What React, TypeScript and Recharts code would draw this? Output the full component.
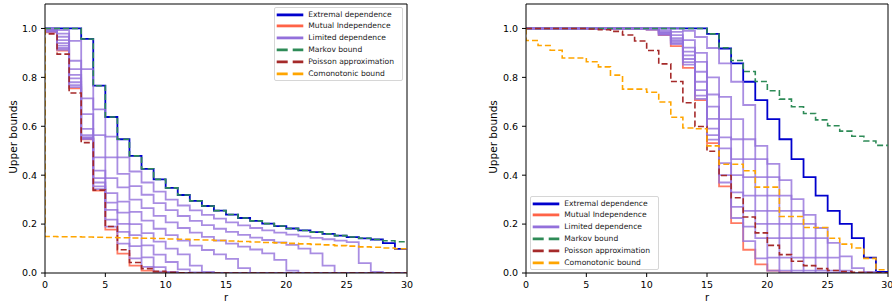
import { LineChart, Line, XAxis, YAxis, ReferenceLine } from 'recharts';

const rValues = [0, 1, 2, 3, 4, 5, 6, 7, 8, 9, 10, 11, 12, 13, 14, 15, 16, 17, 18, 19, 20, 21, 22, 23, 24, 25, 26, 27, 28, 29, 30];
const xTicks = [0, 5, 10, 15, 20, 25, 30];
const yTicks = [0, 0.2, 0.4, 0.6, 0.8, 1.0];

// left panel
const leftExtremal = [1, 1, 1, 1, 0.957, 0.766, 0.638, 0.547, 0.479, 0.426, 0.383, 0.348, 0.319, 0.295, 0.274, 0.255, 0.239, 0.225, 0.213, 0.202, 0.192, 0.182, 0.174, 0.167, 0.16, 0.153, 0.147, 0.142, 0.137, 0.122, 0.099];
const leftIndep = [1, 0.984, 0.909, 0.755, 0.547, 0.337, 0.177, 0.079, 0.03, 0.01, 0.003, 0.001, 0, 0, 0, 0, 0, 0, 0, 0, 0, 0, 0, 0, 0, 0, 0, 0, 0, 0, 0];
const leftLimited = [
  [1, 1, 0.993, 0.949, 0.834, 0.669, 0.558, 0.473, 0.415, 0.37, 0.333, 0.3, 0.276, 0.256, 0.238, 0.222, 0.207, 0.195, 0.184, 0.174, 0.165, 0.157, 0.15, 0.144, 0.138, 0.132, 0.126, 0.04, 0.005, 0, 0],
  [1, 0.999, 0.979, 0.868, 0.714, 0.564, 0.473, 0.405, 0.355, 0.32, 0.286, 0.257, 0.233, 0.213, 0.196, 0.181, 0.168, 0.156, 0.145, 0.135, 0.125, 0.115, 0.1, 0.08, 0.03, 0, 0, 0, 0, 0, 0],
  [1, 0.998, 0.966, 0.834, 0.65, 0.473, 0.388, 0.35, 0.3, 0.265, 0.234, 0.207, 0.184, 0.165, 0.148, 0.133, 0.12, 0.108, 0.096, 0.08, 0.054, 0.01, 0, 0, 0, 0, 0, 0, 0, 0, 0],
  [1, 0.996, 0.952, 0.81, 0.589, 0.419, 0.327, 0.292, 0.25, 0.214, 0.181, 0.155, 0.132, 0.112, 0.094, 0.076, 0.058, 0.02, 0, 0, 0, 0, 0, 0, 0, 0, 0, 0, 0, 0, 0],
  [1, 0.994, 0.94, 0.796, 0.564, 0.388, 0.288, 0.247, 0.2, 0.163, 0.128, 0.1, 0.076, 0.03, 0.005, 0, 0, 0, 0, 0, 0, 0, 0, 0, 0, 0, 0, 0, 0, 0, 0],
  [1, 0.991, 0.93, 0.78, 0.556, 0.37, 0.258, 0.201, 0.155, 0.113, 0.075, 0.045, 0.015, 0.002, 0, 0, 0, 0, 0, 0, 0, 0, 0, 0, 0, 0, 0, 0, 0, 0, 0],
  [1, 0.988, 0.92, 0.768, 0.551, 0.354, 0.218, 0.168, 0.11, 0.064, 0.024, 0.004, 0, 0, 0, 0, 0, 0, 0, 0, 0, 0, 0, 0, 0, 0, 0, 0, 0, 0, 0],
  [1, 0.986, 0.913, 0.76, 0.548, 0.343, 0.19, 0.12, 0.06, 0.025, 0.006, 0.001, 0, 0, 0, 0, 0, 0, 0, 0, 0, 0, 0, 0, 0, 0, 0, 0, 0, 0, 0],
];
const leftMarkov = [1, 1, 1, 1, 0.957, 0.766, 0.638, 0.547, 0.479, 0.426, 0.383, 0.348, 0.319, 0.295, 0.274, 0.255, 0.239, 0.225, 0.213, 0.202, 0.192, 0.182, 0.174, 0.167, 0.16, 0.153, 0.147, 0.142, 0.137, 0.132, 0.128];
const leftPoisson = [1, 0.978, 0.895, 0.736, 0.533, 0.339, 0.19, 0.095, 0.043, 0.018, 0.007, 0.0025, 0.0008, 0, 0, 0, 0, 0, 0, 0, 0, 0, 0, 0, 0, 0, 0, 0, 0, 0, 0];
const leftComon = [1, 0.149, 0.148, 0.148, 0.147, 0.146, 0.145, 0.144, 0.143, 0.142, 0.141, 0.139, 0.138, 0.136, 0.135, 0.133, 0.131, 0.129, 0.127, 0.125, 0.123, 0.121, 0.119, 0.117, 0.115, 0.112, 0.11, 0.107, 0.105, 0.102, 0.099];

// right panel
const rightExtremal = [1, 1, 1, 1, 1, 1, 1, 1, 1, 1, 1, 1, 1, 1, 1, 1, 0.978, 0.918, 0.857, 0.782, 0.707, 0.629, 0.547, 0.466, 0.392, 0.316, 0.254, 0.201, 0.143, 0.063, 0.005];
const rightIndep = [1, 1, 1, 1, 1, 1, 1, 1, 1, 1, 1, 0.995, 0.973, 0.928, 0.839, 0.707, 0.531, 0.354, 0.204, 0.095, 0.035, 0.01, 0.002, 0, 0, 0, 0, 0, 0, 0, 0];
const rightLimited = [
  [1, 1, 1, 1, 1, 1, 1, 1, 1, 1, 1, 1, 1, 1, 0.99, 0.965, 0.92, 0.857, 0.782, 0.687, 0.52, 0.446, 0.38, 0.302, 0.238, 0.184, 0.123, 0.068, 0.02, 0.005, 0],
  [1, 1, 1, 1, 1, 1, 1, 1, 1, 1, 1, 1, 1, 0.986, 0.952, 0.9, 0.8, 0.72, 0.629, 0.547, 0.466, 0.392, 0.316, 0.254, 0.201, 0.143, 0.063, 0.01, 0, 0, 0],
  [1, 1, 1, 1, 1, 1, 1, 1, 1, 1, 1, 1, 0.99, 0.973, 0.922, 0.863, 0.73, 0.629, 0.547, 0.466, 0.392, 0.316, 0.254, 0.201, 0.143, 0.063, 0.01, 0, 0, 0, 0],
  [1, 1, 1, 1, 1, 1, 1, 1, 1, 1, 1, 0.998, 0.985, 0.96, 0.905, 0.823, 0.68, 0.555, 0.466, 0.392, 0.316, 0.254, 0.201, 0.143, 0.063, 0.01, 0, 0, 0, 0, 0],
  [1, 1, 1, 1, 1, 1, 1, 1, 1, 1, 1, 0.997, 0.982, 0.952, 0.89, 0.782, 0.63, 0.51, 0.4, 0.316, 0.254, 0.201, 0.143, 0.063, 0.01, 0, 0, 0, 0, 0, 0],
  [1, 1, 1, 1, 1, 1, 1, 1, 1, 1, 1, 0.996, 0.979, 0.946, 0.875, 0.748, 0.59, 0.449, 0.33, 0.254, 0.201, 0.143, 0.063, 0.01, 0, 0, 0, 0, 0, 0, 0],
  [1, 1, 1, 1, 1, 1, 1, 1, 1, 1, 1, 0.996, 0.976, 0.94, 0.862, 0.725, 0.564, 0.4, 0.27, 0.19, 0.143, 0.063, 0.01, 0, 0, 0, 0, 0, 0, 0, 0],
  [1, 1, 1, 1, 1, 1, 1, 1, 1, 1, 1, 0.995, 0.974, 0.936, 0.852, 0.712, 0.545, 0.37, 0.225, 0.13, 0.06, 0.01, 0, 0, 0, 0, 0, 0, 0, 0, 0],
];
const rightMarkov = [1, 1, 1, 1, 1, 1, 1, 1, 1, 1, 1, 1, 1, 1, 1, 1, 0.978, 0.921, 0.869, 0.824, 0.783, 0.745, 0.711, 0.68, 0.652, 0.626, 0.602, 0.58, 0.559, 0.54, 0.522];
const rightPoisson = [1, 1, 1, 1, 1, 1, 0.998, 0.995, 0.988, 0.973, 0.949, 0.91, 0.855, 0.783, 0.696, 0.599, 0.498, 0.399, 0.308, 0.229, 0.164, 0.113, 0.075, 0.048, 0.03, 0.018, 0.01, 0.006, 0.003, 0.0015, 0.0007];
const rightComon = [1, 0.951, 0.93, 0.911, 0.879, 0.879, 0.864, 0.843, 0.809, 0.752, 0.752, 0.739, 0.699, 0.637, 0.593, 0.59, 0.52, 0.445, 0.445, 0.418, 0.351, 0.351, 0.231, 0.231, 0.186, 0.186, 0.142, 0.118, 0.102, 0.06, 0.013];

const COLORS = {
  ext: '#0000CD',
  indep: '#FF6347',
  lim: '#9370DB',
  markov: '#2E8B57',
  poisson: '#A52A2A',
  comon: '#FFA500',
};

const legendItems = [
  { label: 'Extremal dependence', color: COLORS.ext, dashed: false },
  { label: 'Mutual Independence', color: COLORS.indep, dashed: false },
  { label: 'Limited dependence', color: COLORS.lim, dashed: false },
  { label: 'Markov bound', color: COLORS.markov, dashed: true },
  { label: 'Poisson approximation', color: COLORS.poisson, dashed: true },
  { label: 'Comonotonic bound', color: COLORS.comon, dashed: true },
];

function buildRows(ext: number[], indep: number[], limited: number[][], markov: number[], poisson: number[], comon: number[]) {
  return rValues.map((r, i) => {
    const row: Record<string, number> = { r, ext: ext[i], indep: indep[i], markov: markov[i], poisson: poisson[i], comon: comon[i] };
    limited.forEach((s, j) => {
      row[`lim${j}`] = s[i];
    });
    return row;
  });
}

const leftRows = buildRows(leftExtremal, leftIndep, leftLimited, leftMarkov, leftPoisson, leftComon);
const rightRows = buildRows(rightExtremal, rightIndep, rightLimited, rightMarkov, rightPoisson, rightComon);

const tickStyle = { fill: '#000', fontSize: 9.5 };

function BoundsPanel({ rows, limCount, marginLeft, marginRight }: { rows: Record<string, number>[]; limCount: number; marginLeft: number; marginRight: number }) {
  const limKeys = Array.from({ length: limCount }, (_, j) => `lim${j}`);
  return (
    <LineChart width={446} height={307} data={rows} margin={{ top: 4, right: marginRight, bottom: 0, left: marginLeft }}>
      <XAxis
        type="number"
        dataKey="r"
        domain={[0, 30]}
        ticks={xTicks}
        height={34}
        tickSize={4}
        tickMargin={4}
        stroke="#000"
        tick={tickStyle}
        allowDataOverflow
        label={{ value: 'r', position: 'insideBottom', offset: 6, fill: '#000', fontSize: 10 }}
      />
      <YAxis
        type="number"
        domain={[0, 1.1]}
        ticks={yTicks}
        width={45}
        tickSize={4}
        tickMargin={4}
        stroke="#000"
        tick={tickStyle}
        allowDataOverflow
        tickFormatter={(v: number) => v.toFixed(1)}
      />
      <ReferenceLine y={1.1} stroke="#808080" strokeWidth={2} />
      <ReferenceLine x={30} stroke="#000" strokeWidth={1} />
      <Line dataKey="ext" type="stepBefore" stroke={COLORS.ext} strokeWidth={1.8} dot={false} activeDot={false} isAnimationActive={false} />
      <Line dataKey="indep" type="stepBefore" stroke={COLORS.indep} strokeOpacity={0.85} strokeWidth={1.8} dot={false} activeDot={false} isAnimationActive={false} />
      {limKeys.map((k) => (
        <Line key={k} dataKey={k} type="stepBefore" stroke={COLORS.lim} strokeOpacity={0.8} strokeWidth={1.8} dot={false} activeDot={false} isAnimationActive={false} />
      ))}
      <Line dataKey="markov" type="stepBefore" stroke={COLORS.markov} strokeWidth={1.6} strokeDasharray="6 3" dot={false} activeDot={false} isAnimationActive={false} />
      <Line dataKey="poisson" type="stepBefore" stroke={COLORS.poisson} strokeWidth={1.6} strokeDasharray="6 3" dot={false} activeDot={false} isAnimationActive={false} />
      <Line dataKey="comon" type="stepBefore" stroke={COLORS.comon} strokeWidth={1.6} strokeDasharray="6 3" dot={false} activeDot={false} isAnimationActive={false} />
    </LineChart>
  );
}

function BoundsLegend({ left, top }: { left: number; top: number }) {
  return (
    <div
      style={{
        position: 'absolute',
        left,
        top,
        width: 129,
        height: 74,
        border: '1px solid #d6d6d6',
        borderRadius: 2,
        background: 'rgba(255,255,255,0.85)',
        boxSizing: 'border-box',
      }}
    >
      {legendItems.map((item, i) => (
        <div key={item.label} style={{ position: 'absolute', left: 0, top: 0.5 + i * 11.8, height: 11.8, display: 'flex', alignItems: 'center' }}>
          <svg width={32} height={11.8} style={{ display: 'block' }}>
            <line x1={1.7} x2={28.3} y1={5.9} y2={5.9} stroke={item.color} strokeWidth={2.8} strokeDasharray={item.dashed ? '11 5' : undefined} />
          </svg>
          <span style={{ fontSize: 7.6, color: '#222', whiteSpace: 'nowrap', marginLeft: 1.3, lineHeight: '11.8px' }}>{item.label}</span>
        </div>
      ))}
    </div>
  );
}

function AxisTitle({ x, y }: { x: number; y: number }) {
  return (
    <div
      style={{
        position: 'absolute',
        left: x,
        top: y,
        transform: 'translate(-50%, -50%) rotate(-90deg)',
        fontSize: 10.5,
        whiteSpace: 'nowrap',
        color: '#000',
      }}
    >
      Upper bounds
    </div>
  );
}

export default function App() {
  return (
    <div style={{ position: 'absolute', left: 0, top: 0, width: 892, height: 307, background: '#fff', fontFamily: '"DejaVu Sans", sans-serif', overflow: 'hidden' }}>
      <div style={{ position: 'absolute', left: 0, top: 0 }}>
        <BoundsPanel rows={leftRows} limCount={leftLimited.length} marginLeft={0} marginRight={39} />
      </div>
      <div style={{ position: 'absolute', left: 446, top: 0 }}>
        <BoundsPanel rows={rightRows} limCount={rightLimited.length} marginLeft={35} marginRight={4} />
      </div>
      <AxisTitle x={13} y={137} />
      <AxisTitle x={493} y={137} />
      <BoundsLegend left={274} top={7} />
      <BoundsLegend left={530} top={196} />
    </div>
  );
}
